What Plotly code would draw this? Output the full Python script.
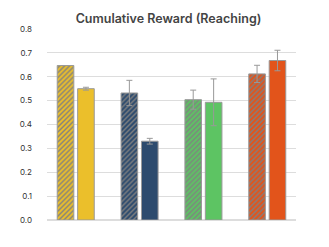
import plotly.graph_objects as go

groups = ["A", "B", "C", "D"]
colors = ["#EBBF2B", "#2D4B6E", "#5DC463", "#E2541B"]
hatched_vals = [0.647, 0.532, 0.504, 0.612]
hatched_err = [0.0, 0.053, 0.040, 0.036]
solid_vals = [0.550, 0.330, 0.493, 0.668]
solid_err = [0.006, 0.012, 0.098, 0.043]
y_ticks = [0.0, 0.1, 0.2, 0.3, 0.4, 0.5, 0.6, 0.7, 0.8]

BAR_W = 0.26
GAP = 0.06

fig = go.Figure()
for g, c, hv, he, sv, se in zip(groups, colors, hatched_vals, hatched_err, solid_vals, solid_err):
    fig.add_trace(go.Bar(
        x=[g], y=[hv], width=BAR_W, offset=-BAR_W - GAP / 2,
        error_y=dict(type="data", array=[he], visible=he > 0, color="#999999", thickness=1, width=3),
        marker=dict(color=c, line=dict(color="#999999", width=1),
                    pattern=dict(shape="/", fgcolor="#808080", bgcolor=c, fgopacity=1, size=3.5,
                                 solidity=0.4, fillmode="replace")),
        showlegend=False,
    ))
    fig.add_trace(go.Bar(
        x=[g], y=[sv], width=BAR_W, offset=GAP / 2,
        error_y=dict(type="data", array=[se], visible=se > 0, color="#999999", thickness=1, width=3),
        marker=dict(color=c, line=dict(color="#999999", width=1)),
        showlegend=False,
    ))

# body margin of the page is 8px, so the figure is shrunk and margins shifted
fig.update_layout(
    width=321, height=239,
    margin=dict(l=33, r=33, t=21, b=27),
    paper_bgcolor="white", plot_bgcolor="white",
    barmode="overlay",
    font=dict(family="Inter", color="#333333"),
    title=dict(text="Cumulative Reward (Reaching)", x=0.5, xanchor="center", y=0.955, yanchor="middle",
               font=dict(size=12.5, color="#444444", family="Inter", weight=600)),
    xaxis=dict(showticklabels=False, showgrid=False, zeroline=False, range=[-0.45, 3.45], ticks=""),
    yaxis=dict(range=[0, 0.8], tickvals=y_ticks, tickformat=".1f", showgrid=True, gridcolor="#DDDDDD",
               gridwidth=1, zeroline=True, zerolinecolor="#DDDDDD", tickfont=dict(size=8, color="#333333"),
               ticks="", ticklabelstandoff=14),
)

fig.write_html("out.html")
